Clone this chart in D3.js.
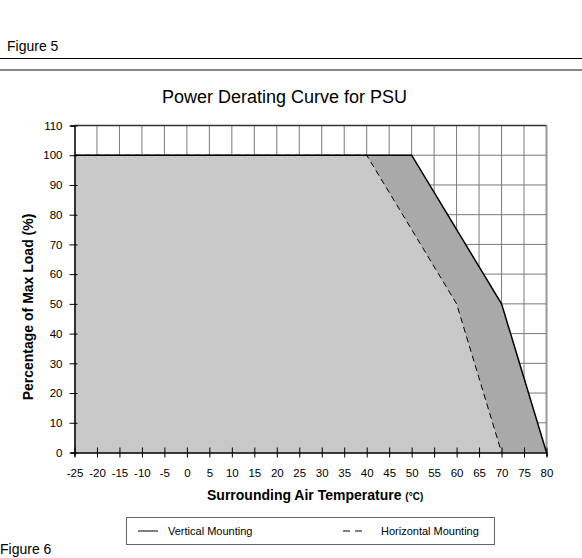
<!DOCTYPE html>
<html><head><meta charset="utf-8">
<script src="https://cdn.jsdelivr.net/npm/d3@7"></script>
<style>body{margin:0;background:#fff}svg{display:block}text{font-family:"Liberation Sans",Arial,sans-serif}</style>
</head><body><svg id="c" width="582" height="558"></svg>
<script>
const xTicks = [-25,-20,-15,-10,-5,0,5,10,15,20,25,30,35,40,45,50,55,60,65,70,75,80];
const yTicks = [0,10,20,30,40,50,60,70,80,90,100,110];
const verticalTemp = [-25, 50, 70, 80];
const verticalLoad = [100, 100, 50, 0];
const horizontalTemp = [-25, 40, 60, 70];
const horizontalLoad = [100, 100, 50, 0];
const seriesNames = ["Vertical Mounting", "Horizontal Mounting"];

const svg = d3.select("#c");
const x = d3.scaleLinear().domain([-25,80]).range([74.5,546.5]);
const y = d3.scaleLinear().domain([0,110]).range([452.5,125.5]);

// header
svg.append("text").attr("x",7).attr("y",51).attr("font-size",14).text("Figure 5");
svg.append("line").attr("x1",0).attr("x2",582).attr("y1",58.5).attr("y2",58.5).attr("stroke","#000").attr("stroke-width",1);
svg.append("line").attr("x1",0).attr("x2",582).attr("y1",70).attr("y2",70).attr("stroke","#888").attr("stroke-width",2);
svg.append("text").attr("x",0).attr("y",554).attr("font-size",14).text("Figure 6");

// title
svg.append("text").attr("x",162).attr("y",103).attr("font-size",18).text("Power Derating Curve for PSU");

// grid
const grid = svg.append("g");
grid.selectAll("line.v").data(xTicks.filter(d=>d>-25)).enter().append("line")
  .attr("x1",d=>x(d)).attr("x2",d=>x(d)).attr("y1",y(0)).attr("y2",y(110))
  .attr("stroke",d=>d===80?"#999":"#7a7a7a").attr("stroke-width",d=>d===80?2:1);
grid.selectAll("line.h").data(yTicks.filter(d=>d>0)).enter().append("line")
  .attr("x1",x(-25)).attr("x2",x(80)).attr("y1",d=>y(d)).attr("y2",d=>y(d))
  .attr("stroke",d=>d===110?"#333":"#7a7a7a").attr("stroke-width",d=>d===110?1.3:1);

// areas
const vPts = verticalTemp.map((t,i)=>[t,verticalLoad[i]]);
const hPts = horizontalTemp.map((t,i)=>[t,horizontalLoad[i]]);
const area = d3.area().x(d=>x(d[0])).y0(y(0)).y1(d=>y(d[1]));
svg.append("path").datum(vPts).attr("d",area).attr("fill","#a9a9a9");
svg.append("path").datum(hPts).attr("d",area).attr("fill","#c8c8c8");
const line = d3.line().x(d=>x(d[0])).y(d=>y(d[1]));
svg.append("path").datum(hPts).attr("d",line).attr("fill","none").attr("stroke","#000").attr("stroke-width",1).attr("stroke-dasharray","6,4");
svg.append("path").datum(vPts).attr("d",line).attr("fill","none").attr("stroke","#000").attr("stroke-width",1.5);

// axes
const fmt = d => String(d);
const yAxis = d3.axisLeft(y).tickValues(yTicks).tickSize(4).tickPadding(8).tickFormat(fmt);
const gy = svg.append("g").attr("transform",`translate(${x(-25)},0)`).call(yAxis);
gy.select(".domain").attr("stroke","#000").attr("stroke-width",1.5);
gy.selectAll(".tick line").attr("x2",-5).attr("x1",3);
gy.selectAll("text").attr("font-size",11.5).attr("font-family","Liberation Sans, Arial, sans-serif").attr("fill","#000");

const xAxis = d3.axisBottom(x).tickValues(xTicks).tickSize(4).tickPadding(12).tickFormat(fmt);
const gx = svg.append("g").attr("transform",`translate(0,${y(0)})`).call(xAxis);
gx.select(".domain").attr("stroke","#000").attr("stroke-width",1.5);
gx.selectAll(".tick line").attr("y1",-5).attr("y2",5);
gx.selectAll("text").attr("font-size",11.5).attr("font-family","Liberation Sans, Arial, sans-serif").attr("fill","#000");

// axis labels
const xl = svg.append("text").attr("x",207).attr("y",500).attr("font-size",14).attr("font-weight","bold");
xl.append("tspan").text("Surrounding Air Temperature ");
xl.append("tspan").attr("font-size",10).text("(°C)");
svg.append("text").attr("transform","translate(33,307) rotate(-90)").attr("text-anchor","middle").attr("font-size",14).attr("font-weight","bold").text("Percentage of Max Load (%)");

// legend
const lg = svg.append("g");
lg.append("rect").attr("x",126.5).attr("y",517.5).attr("width",368).attr("height",27).attr("fill","#fff").attr("stroke","#666");
const items = [{name:seriesNames[0],x:138,tx:168,dash:null},{name:seriesNames[1],x:343,tx:381,dash:"7,5"}];
items.forEach(it=>{
  lg.append("line").attr("x1",it.x).attr("x2",it.x+20).attr("y1",531).attr("y2",531).attr("stroke","#000").attr("stroke-width",1).attr("stroke-dasharray",it.dash);
  lg.append("text").attr("x",it.tx).attr("y",535).attr("font-size",11).text(it.name);
});
</script></body></html>
